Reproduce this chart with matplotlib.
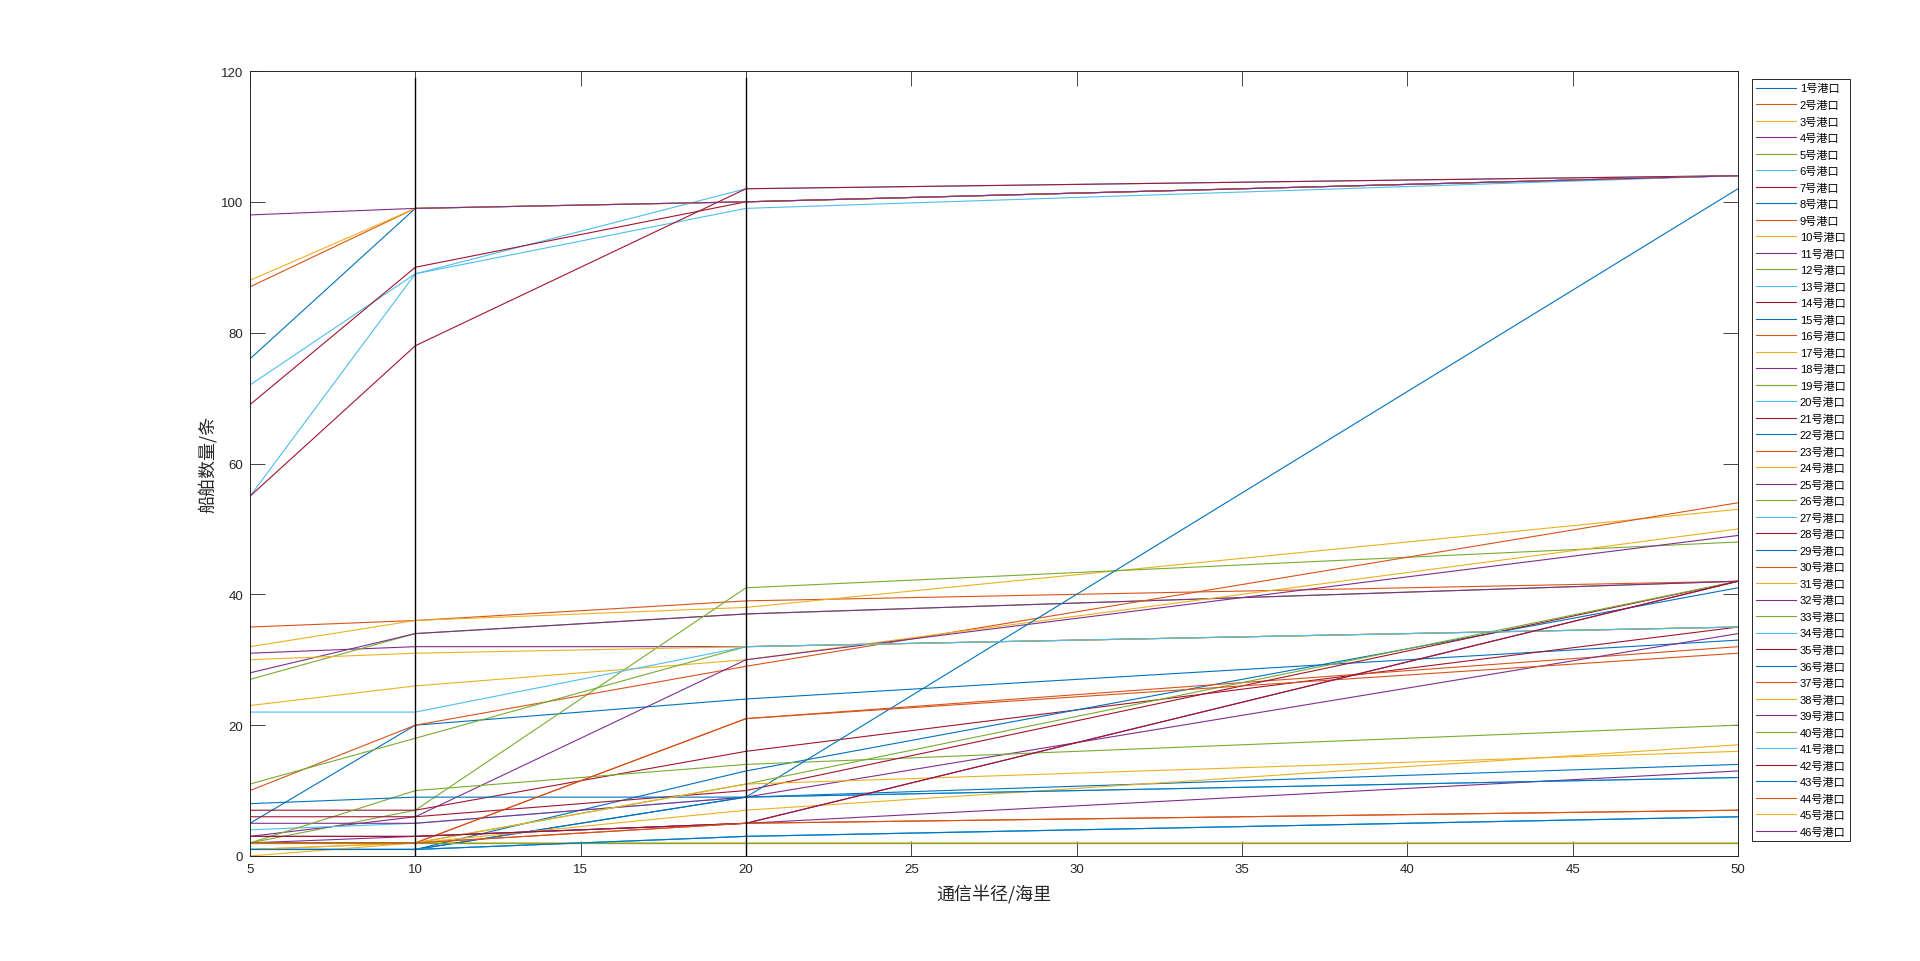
import matplotlib
matplotlib.use('Agg')
import matplotlib.pyplot as plt

# communication radius (nautical miles)
radius = [5, 10, 20, 50]

# ship counts per port (port 1..46) at each radius
count_r5 = [76, 87, 1, 31, 27, 72, 69, 5, 35, 32, 28, 2, 55, 55, 1, 10, 23, 3, 11, 4, 7, 1, 2,
            30, 5, 2, 1, 6, 1, 2, 0, 2, 2, 1, 2, 8, 2, 1, 3, 2, 22, 3, 1, 2, 88, 98]
count_r10 = [99, 99, 2, 32, 34, 89, 90, 20, 36, 36, 34, 7, 89, 78, 1, 20, 26, 6, 18, 5, 7, 1, 2,
             31, 5, 10, 1, 6, 1, 2, 2, 3, 2, 1, 2, 9, 2, 2, 3, 2, 22, 3, 1, 2, 99, 99]
count_r20 = [100, 100, 2, 32, 37, 102, 100, 24, 39, 38, 37, 41, 99, 102, 9, 29, 30, 30, 32, 9, 16, 13, 21,
             32, 9, 14, 3, 10, 9, 5, 7, 5, 11, 3, 2, 9, 21, 11, 5, 2, 32, 5, 3, 5, 100, 100]
count_r50 = [104, 104, 2, 35, 42, 104, 104, 33, 42, 53, 42, 48, 104, 104, 14, 54, 50, 49, 35, 12, 35, 41, 32,
             35, 34, 20, 6, 42, 102, 7, 17, 13, 42, 6, 2, 12, 31, 16, 42, 2, 35, 42, 6, 7, 104, 104]

port_labels = ['%d号港口' % (i + 1) for i in range(len(count_r5))]

# marker lines drawn at these radii
marker_x = [10, 20]
marker_top = 119

colors = ['#0072BD', '#D95319', '#EDB120', '#7E2F8E', '#77AC30', '#4DBEEE', '#A2142F']
cjk = ['Liberation Sans', 'Noto Sans CJK SC', 'DejaVu Sans']

fig = plt.figure(figsize=(19.2, 9.62), dpi=100)
ax = fig.add_axes([250/1920, 1-857/962, (1738-250)/1920, (857-72)/962])

for i in range(len(count_r5)):
    ys = [count_r5[i], count_r10[i], count_r20[i], count_r50[i]]
    ax.plot(radius, ys, color=colors[i % 7], lw=0.8, label=port_labels[i])

for xv in marker_x:
    ax.plot([xv, xv], [0, marker_top], color='k', lw=1.0)

ax.set_xlim(5, 50)
ax.set_ylim(0, 120)
ax.set_xticks(range(5, 51, 5))
ax.set_yticks(range(0, 121, 20))
ax.tick_params(direction='in', length=10.5, width=0.6, top=True, right=True,
               labelsize=9.5, colors='#262626', pad=5)
for lab in ax.get_xticklabels() + ax.get_yticklabels():
    lab.set_family('Liberation Sans')
for s in ax.spines.values():
    s.set_color('#262626')
    s.set_linewidth(0.7)

ax.set_xlabel('通信半径/海里', family=['Noto Sans CJK SC'], fontsize=13, color='#262626', labelpad=7)
ax.set_ylabel('船舶数量/条', family=['Noto Sans CJK SC'], fontsize=13, color='#262626', labelpad=3)

leg = ax.legend(loc='upper left', bbox_to_anchor=(1752/1920, 1-80/962),
                bbox_transform=fig.transFigure, prop={'family': cjk, 'size': 8},
                fancybox=False, framealpha=1, edgecolor='#262626', handlelength=3.6,
                handletextpad=0.3, labelspacing=0.585, borderpad=0.4, borderaxespad=0)
leg.get_frame().set_linewidth(0.7)

fig.savefig('out.png', dpi=100)
